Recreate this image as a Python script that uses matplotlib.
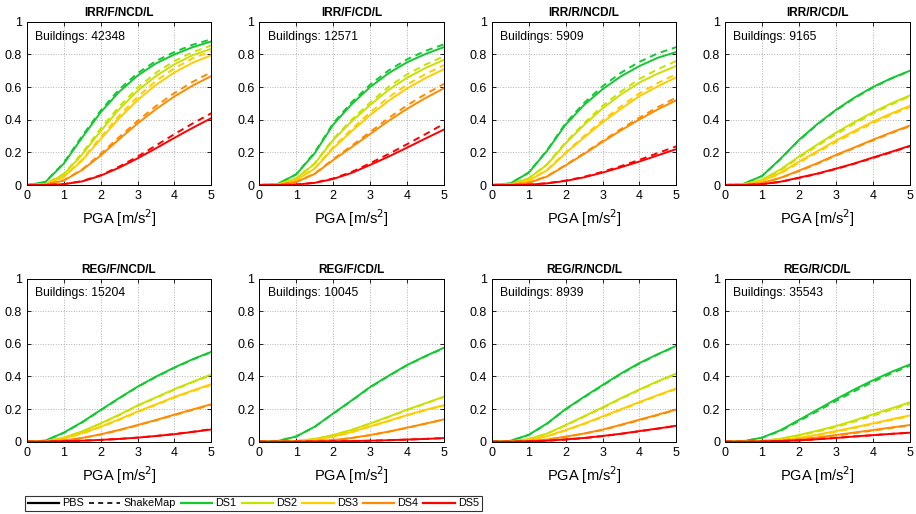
import matplotlib
matplotlib.use("Agg")
import matplotlib.pyplot as plt
from matplotlib.lines import Line2D

plt.rcParams['font.family'] = ['Liberation Sans', 'DejaVu Sans']

# PGA sample points [m/s^2]
pga = [0, 0.5, 1, 1.5, 2, 2.5, 3, 3.5, 4, 4.5, 5]

titles = ['IRR/F/NCD/L', 'IRR/F/CD/L', 'IRR/R/NCD/L', 'IRR/R/CD/L',
          'REG/F/NCD/L', 'REG/F/CD/L', 'REG/R/NCD/L', 'REG/R/CD/L']
buildings = [42348, 12571, 5909, 9165, 15204, 10045, 8939, 35543]

ds_labels = ['DS1', 'DS2', 'DS3', 'DS4', 'DS5']
ds_colors = ['#14c832', '#c8e100', '#ffcc00', '#ff8c00', '#ff0000']

# probability of exceedance, one list per damage state (DS1..DS5)
pbs_irr_f_ncd = [
    [0, 0.017, 0.13, 0.29, 0.445, 0.57, 0.67, 0.745, 0.80, 0.845, 0.88],
    [0, 0.005, 0.064, 0.186, 0.33, 0.463, 0.577, 0.668, 0.74, 0.796, 0.835],
    [0, 0.003, 0.048, 0.151, 0.281, 0.408, 0.52, 0.614, 0.69, 0.75, 0.795],
    [0, 0.002, 0.027, 0.092, 0.18, 0.28, 0.377, 0.465, 0.543, 0.61, 0.668],
    [0, 0.0001, 0.005, 0.022, 0.057, 0.106, 0.163, 0.225, 0.289, 0.351, 0.41]]
sm_irr_f_ncd = [
    [0, 0.018, 0.135, 0.30, 0.455, 0.585, 0.685, 0.76, 0.815, 0.86, 0.893],
    [0, 0.005, 0.068, 0.195, 0.345, 0.48, 0.595, 0.688, 0.76, 0.815, 0.855],
    [0, 0.003, 0.05, 0.157, 0.292, 0.424, 0.54, 0.638, 0.715, 0.777, 0.82],
    [0, 0.002, 0.028, 0.095, 0.19, 0.293, 0.392, 0.484, 0.564, 0.633, 0.692],
    [0, 0.0001, 0.005, 0.024, 0.06, 0.112, 0.174, 0.242, 0.312, 0.378, 0.44]]

pbs_irr_f_cd = [
    [0, 0.007, 0.065, 0.195, 0.37, 0.495, 0.60, 0.685, 0.752, 0.803, 0.845],
    [0, 0.003, 0.04, 0.13, 0.276, 0.39, 0.49, 0.583, 0.657, 0.717, 0.767],
    [0, 0.002, 0.03, 0.10, 0.225, 0.33, 0.428, 0.516, 0.592, 0.655, 0.71],
    [0, 0.001, 0.018, 0.068, 0.153, 0.232, 0.312, 0.393, 0.467, 0.533, 0.593],
    [0, 0, 0.0024, 0.013, 0.037, 0.074, 0.123, 0.174, 0.229, 0.285, 0.34]]
sm_irr_f_cd = [
    [0, 0.007, 0.066, 0.2, 0.378, 0.507, 0.615, 0.702, 0.77, 0.822, 0.862],
    [0, 0.003, 0.041, 0.133, 0.282, 0.4, 0.505, 0.602, 0.678, 0.738, 0.788],
    [0, 0.002, 0.031, 0.104, 0.232, 0.342, 0.445, 0.537, 0.615, 0.68, 0.735],
    [0, 0.001, 0.019, 0.07, 0.158, 0.24, 0.325, 0.41, 0.488, 0.557, 0.62],
    [0, 0, 0.0026, 0.014, 0.04, 0.08, 0.133, 0.19, 0.25, 0.312, 0.375]]

pbs_irr_r_ncd = [
    [0, 0.009, 0.075, 0.21, 0.37, 0.49, 0.587, 0.666, 0.729, 0.78, 0.815],
    [0, 0.003, 0.04, 0.125, 0.255, 0.368, 0.47, 0.555, 0.628, 0.683, 0.73],
    [0, 0.002, 0.027, 0.09, 0.195, 0.291, 0.384, 0.467, 0.545, 0.605, 0.66],
    [0, 0.001, 0.013, 0.052, 0.12, 0.19, 0.264, 0.335, 0.402, 0.464, 0.52],
    [0, 0, 0.002, 0.01, 0.025, 0.047, 0.076, 0.109, 0.144, 0.182, 0.22]]
sm_irr_r_ncd = [
    [0, 0.009, 0.076, 0.214, 0.378, 0.503, 0.605, 0.688, 0.755, 0.807, 0.845],
    [0, 0.003, 0.041, 0.128, 0.262, 0.378, 0.485, 0.573, 0.65, 0.71, 0.76],
    [0, 0.002, 0.028, 0.093, 0.2, 0.3, 0.396, 0.482, 0.562, 0.625, 0.68],
    [0, 0.001, 0.014, 0.054, 0.123, 0.195, 0.27, 0.343, 0.413, 0.477, 0.537],
    [0, 0, 0.002, 0.011, 0.027, 0.05, 0.081, 0.116, 0.154, 0.196, 0.237]]

pbs_irr_r_cd = [
    [0, 0.007, 0.055, 0.16, 0.276, 0.374, 0.46, 0.535, 0.60, 0.654, 0.70],
    [0, 0.004, 0.032, 0.095, 0.174, 0.248, 0.32, 0.385, 0.445, 0.50, 0.548],
    [0, 0.003, 0.024, 0.075, 0.143, 0.207, 0.272, 0.331, 0.388, 0.438, 0.485],
    [0, 0.001, 0.012, 0.044, 0.088, 0.134, 0.184, 0.23, 0.277, 0.322, 0.364],
    [0, 0, 0.005, 0.02, 0.045, 0.07, 0.10, 0.132, 0.168, 0.203, 0.24]]
sm_irr_r_cd = [
    [0, 0.007, 0.055, 0.158, 0.273, 0.371, 0.457, 0.532, 0.597, 0.652, 0.698],
    [0, 0.004, 0.03, 0.09, 0.167, 0.24, 0.31, 0.376, 0.437, 0.493, 0.543],
    [0, 0.003, 0.022, 0.07, 0.136, 0.2, 0.263, 0.322, 0.379, 0.43, 0.478],
    [0, 0.001, 0.012, 0.042, 0.085, 0.13, 0.18, 0.226, 0.273, 0.318, 0.36],
    [0, 0, 0.005, 0.019, 0.043, 0.068, 0.098, 0.13, 0.165, 0.2, 0.237]]

pbs_reg_f_ncd = [
    [0, 0.006, 0.055, 0.12, 0.194, 0.267, 0.337, 0.399, 0.455, 0.506, 0.551],
    [0, 0.002, 0.025, 0.063, 0.112, 0.165, 0.222, 0.272, 0.322, 0.368, 0.412],
    [0, 0.002, 0.02, 0.052, 0.092, 0.137, 0.185, 0.229, 0.274, 0.314, 0.353],
    [0, 0.001, 0.008, 0.023, 0.045, 0.072, 0.102, 0.133, 0.166, 0.198, 0.23],
    [0, 0, 0.003, 0.006, 0.011, 0.017, 0.025, 0.035, 0.046, 0.06, 0.075]]
sm_reg_f_ncd = [
    [0, 0.006, 0.054, 0.118, 0.192, 0.265, 0.335, 0.397, 0.453, 0.504, 0.549],
    [0, 0.002, 0.024, 0.061, 0.11, 0.162, 0.219, 0.269, 0.319, 0.365, 0.408],
    [0, 0.002, 0.019, 0.05, 0.089, 0.133, 0.181, 0.225, 0.27, 0.31, 0.348],
    [0, 0.001, 0.008, 0.022, 0.044, 0.07, 0.1, 0.131, 0.163, 0.195, 0.226],
    [0, 0, 0.003, 0.006, 0.011, 0.017, 0.025, 0.035, 0.047, 0.061, 0.077]]

pbs_reg_f_cd = [
    [0, 0.004, 0.032, 0.092, 0.173, 0.253, 0.335, 0.404, 0.47, 0.525, 0.576],
    [0, 0, 0.004, 0.017, 0.041, 0.073, 0.112, 0.153, 0.196, 0.236, 0.276],
    [0, 0, 0.003, 0.012, 0.031, 0.06, 0.094, 0.128, 0.163, 0.195, 0.224],
    [0, 0, 0.001, 0.004, 0.01, 0.023, 0.041, 0.062, 0.086, 0.111, 0.137],
    [0, 0, 0, 0.001, 0.002, 0.004, 0.006, 0.009, 0.013, 0.017, 0.022]]
sm_reg_f_cd = [
    [0, 0.004, 0.032, 0.091, 0.171, 0.251, 0.333, 0.402, 0.468, 0.523, 0.573],
    [0, 0, 0.004, 0.016, 0.039, 0.071, 0.11, 0.151, 0.194, 0.234, 0.274],
    [0, 0, 0.003, 0.011, 0.03, 0.058, 0.092, 0.126, 0.161, 0.193, 0.222],
    [0, 0, 0.001, 0.004, 0.01, 0.022, 0.04, 0.061, 0.085, 0.11, 0.136],
    [0, 0, 0, 0.001, 0.002, 0.004, 0.006, 0.009, 0.013, 0.017, 0.022]]

pbs_reg_r_ncd = [
    [0, 0.005, 0.042, 0.112, 0.2, 0.275, 0.347, 0.418, 0.482, 0.537, 0.588],
    [0, 0.001, 0.016, 0.05, 0.102, 0.156, 0.21, 0.267, 0.32, 0.371, 0.418],
    [0, 0.001, 0.01, 0.034, 0.071, 0.111, 0.155, 0.199, 0.243, 0.286, 0.327],
    [0, 0, 0.004, 0.013, 0.031, 0.05, 0.074, 0.104, 0.135, 0.166, 0.198],
    [0, 0, 0.002, 0.006, 0.014, 0.023, 0.035, 0.049, 0.065, 0.081, 0.098]]
sm_reg_r_ncd = [
    [0, 0.005, 0.041, 0.11, 0.198, 0.272, 0.344, 0.415, 0.479, 0.535, 0.586],
    [0, 0.001, 0.016, 0.049, 0.1, 0.153, 0.206, 0.263, 0.316, 0.368, 0.415],
    [0, 0.001, 0.01, 0.033, 0.069, 0.108, 0.151, 0.195, 0.239, 0.282, 0.323],
    [0, 0, 0.004, 0.013, 0.03, 0.049, 0.072, 0.101, 0.132, 0.163, 0.195],
    [0, 0, 0.002, 0.006, 0.013, 0.022, 0.034, 0.048, 0.064, 0.08, 0.097]]

pbs_reg_r_cd = [
    [0, 0.003, 0.025, 0.07, 0.133, 0.196, 0.26, 0.32, 0.376, 0.427, 0.473],
    [0, 0, 0.005, 0.018, 0.041, 0.067, 0.096, 0.13, 0.167, 0.204, 0.241],
    [0, 0, 0.003, 0.01, 0.024, 0.043, 0.065, 0.088, 0.112, 0.137, 0.161],
    [0, 0, 0.002, 0.006, 0.014, 0.026, 0.041, 0.056, 0.071, 0.087, 0.102],
    [0, 0, 0.001, 0.004, 0.008, 0.015, 0.023, 0.032, 0.04, 0.048, 0.055]]
sm_reg_r_cd = [
    [0, 0.003, 0.024, 0.066, 0.126, 0.187, 0.249, 0.309, 0.366, 0.418, 0.466],
    [0, 0, 0.005, 0.017, 0.038, 0.062, 0.09, 0.123, 0.159, 0.196, 0.233],
    [0, 0, 0.003, 0.009, 0.022, 0.04, 0.061, 0.084, 0.108, 0.133, 0.157],
    [0, 0, 0.002, 0.005, 0.013, 0.024, 0.038, 0.053, 0.068, 0.084, 0.099],
    [0, 0, 0.001, 0.004, 0.008, 0.015, 0.023, 0.032, 0.04, 0.048, 0.055]]

pbs_curves = [pbs_irr_f_ncd, pbs_irr_f_cd, pbs_irr_r_ncd, pbs_irr_r_cd,
              pbs_reg_f_ncd, pbs_reg_f_cd, pbs_reg_r_ncd, pbs_reg_r_cd]
sm_curves = [sm_irr_f_ncd, sm_irr_f_cd, sm_irr_r_ncd, sm_irr_r_cd,
             sm_reg_f_ncd, sm_reg_f_cd, sm_reg_r_ncd, sm_reg_r_cd]


def main():
    fig = plt.figure(figsize=(9.16, 5.14), dpi=100, facecolor='w')

    lefts = [26.7, 259.3, 491.7, 725.0]
    bottoms = [185.0, 441.7]
    w, h = 184.7, 163.2

    for k in range(8):
        row, col = divmod(k, 4)
        ax = fig.add_axes([lefts[col] / 916, 1 - bottoms[row] / 514,
                           w / 916, h / 514])

        # ShakeMap dashed first, PBS solid on top
        for d in range(5):
            ax.plot(pga, sm_curves[k][d], '--', color=ds_colors[d], lw=1.4,
                    dashes=(3.5, 2.5))
            ax.plot(pga, pbs_curves[k][d], '-', color=ds_colors[d], lw=1.4)

        ax.set_xlim(0, 5)
        ax.set_ylim(0, 1)
        ax.set_xticks(range(6))
        ax.set_yticks([0, 0.2, 0.4, 0.6, 0.8, 1])
        ax.set_yticklabels(['0', '0.2', '0.4', '0.6', '0.8', '1'])
        ax.tick_params(direction='in', top=True, right=True, length=3,
                       labelsize=9, pad=3.5, width=0.6)
        ax.grid(True, linestyle=':', color='#b0b0b0', lw=0.7)
        for s in ax.spines.values():
            s.set_linewidth(0.7)
        ax.set_title(titles[k], fontsize=8.5, fontweight='bold', pad=4)
        ax.set_xlabel('PGA [m/s$^2$]', fontsize=10.5, labelpad=4)
        ax.text(0.045, 0.89, 'Buildings: {}'.format(buildings[k]),
                transform=ax.transAxes, fontsize=8.7)

    # legend
    handles = [Line2D([], [], color='k', lw=1.6, ls='-'),
               Line2D([], [], color='k', lw=1.2, ls='--', dashes=(3, 2.5))]
    handles += [Line2D([], [], color=c, lw=1.6) for c in ds_colors]
    labels = ['PBS', 'ShakeMap'] + ds_labels
    leg = fig.legend(handles, labels, loc='lower left', ncol=7,
                     bbox_to_anchor=(25 / 916, 1 - 511 / 514),
                     fontsize=7.8, frameon=True, fancybox=False,
                     edgecolor='k', handlelength=2.9, handletextpad=0.3,
                     columnspacing=0.45, borderpad=0.25, borderaxespad=0)
    leg.get_frame().set_linewidth(0.8)

    fig.savefig('out.png', dpi=100)


main()
